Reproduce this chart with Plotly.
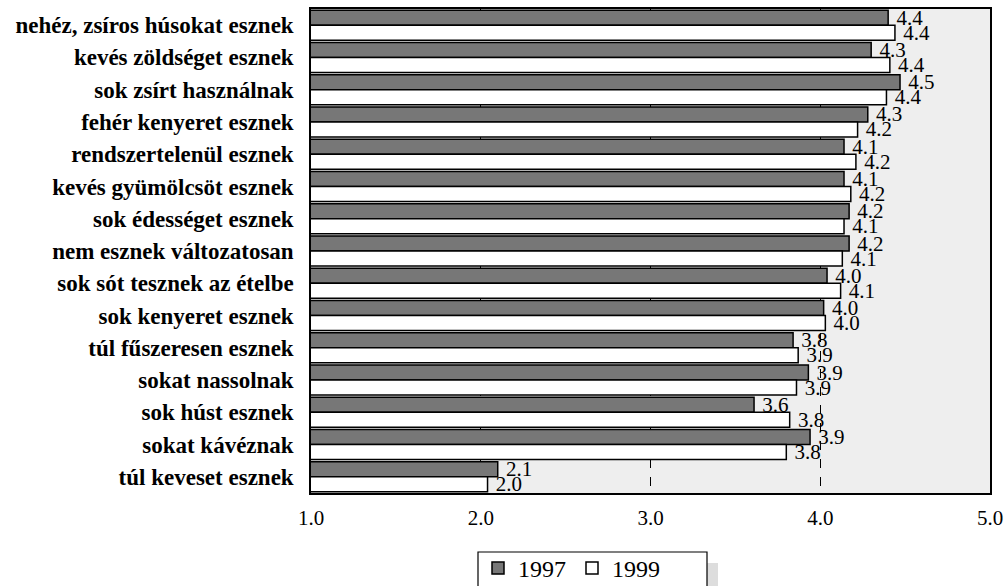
import plotly.graph_objects as go

categories = [
    "nehéz, zsíros húsokat esznek",
    "kevés zöldséget esznek",
    "sok zsírt használnak",
    "fehér kenyeret esznek",
    "rendszertelenül esznek",
    "kevés gyümölcsöt esznek",
    "sok édességet esznek",
    "nem esznek változatosan",
    "sok sót tesznek az ételbe",
    "sok kenyeret esznek",
    "túl fűszeresen esznek",
    "sokat nassolnak",
    "sok húst esznek",
    "sokat kávéznak",
    "túl keveset esznek",
]
values_1997 = [4.40, 4.30, 4.47, 4.28, 4.14, 4.14, 4.17, 4.17, 4.04, 4.02, 3.84, 3.93, 3.61, 3.94, 2.10]
values_1999 = [4.44, 4.41, 4.39, 4.22, 4.21, 4.18, 4.14, 4.13, 4.12, 4.03, 3.87, 3.86, 3.82, 3.80, 2.04]
series_names = ["1997", "1999"]
tick_vals = [1, 2, 3, 4, 5]
tick_text = ["1.0", "2.0", "3.0", "4.0", "5.0"]

SERIF = "Liberation Serif"
W, H = 1006, 586
L, R, T, B = 311, 16, 9, 93
pw, ph = W - L - R, H - T - B


def px_x(p):
    return (p - L) / pw


def px_y(p):
    return -(p - (T + ph)) / ph


fig = go.Figure()
for name, vals, color in [(series_names[0], values_1997, "#777777"),
                          (series_names[1], values_1999, "#ffffff")]:
    fig.add_trace(go.Bar(
        name=name, y=categories, x=vals, orientation="h",
        base=0,
        marker=dict(color=color, line=dict(color="#000000", width=1.5)),
        text=["\u00a0" + f"{v:.1f}" for v in vals],
        textposition="outside", cliponaxis=False, constraintext="none",
        textfont=dict(family=SERIF, size=21, color="#000000"),
    ))

fig.update_layout(
    width=W, height=H,
    margin=dict(l=L, r=R, t=T, b=B, pad=0, autoexpand=False),
    paper_bgcolor="#ffffff", plot_bgcolor="#eeeeee",
    barmode="group", bargap=0.07, bargroupgap=0.0,
    showlegend=True,
    legend=dict(
        orientation="h", x=px_x(478), xanchor="left",
        y=px_y(546), yanchor="top",
        borderwidth=0, bgcolor="rgba(0,0,0,0)",
        font=dict(family=SERIF, size=24, color="#000000"),
        entrywidth=49, traceorder="normal",
    ),
    xaxis=dict(
        range=[1, 5], tickvals=tick_vals, ticktext=tick_text,
        showgrid=True, gridcolor="#000000", gridwidth=1, griddash="dash",
        showline=True, linecolor="#000000", linewidth=1.5, mirror=True,
        ticks="outside", ticklen=5, tickcolor="rgba(0,0,0,0)",
        tickfont=dict(family=SERIF, size=21, color="#000000"),
        zeroline=False,
    ),
    yaxis=dict(
        autorange="reversed", showgrid=False,
        showline=True, linecolor="#000000", linewidth=1.5, mirror=True,
        ticks="outside", ticklen=11, tickcolor="rgba(0,0,0,0)",
        tickfont=dict(family=SERIF, size=23, color="#000000", weight="bold"),
    ),
    shapes=[
        dict(type="rect", xref="paper", yref="paper",
             x0=px_x(489), x1=px_x(718), y0=px_y(620), y1=px_y(563),
             fillcolor="#dddddd", line=dict(width=0), layer="below"),
        dict(type="rect", xref="paper", yref="paper",
             x0=px_x(478), x1=px_x(707), y0=px_y(620), y1=px_y(552),
             fillcolor="#ffffff", line=dict(color="#000000", width=1.2),
             layer="below"),
    ],
)

fig.write_html("out.html")
